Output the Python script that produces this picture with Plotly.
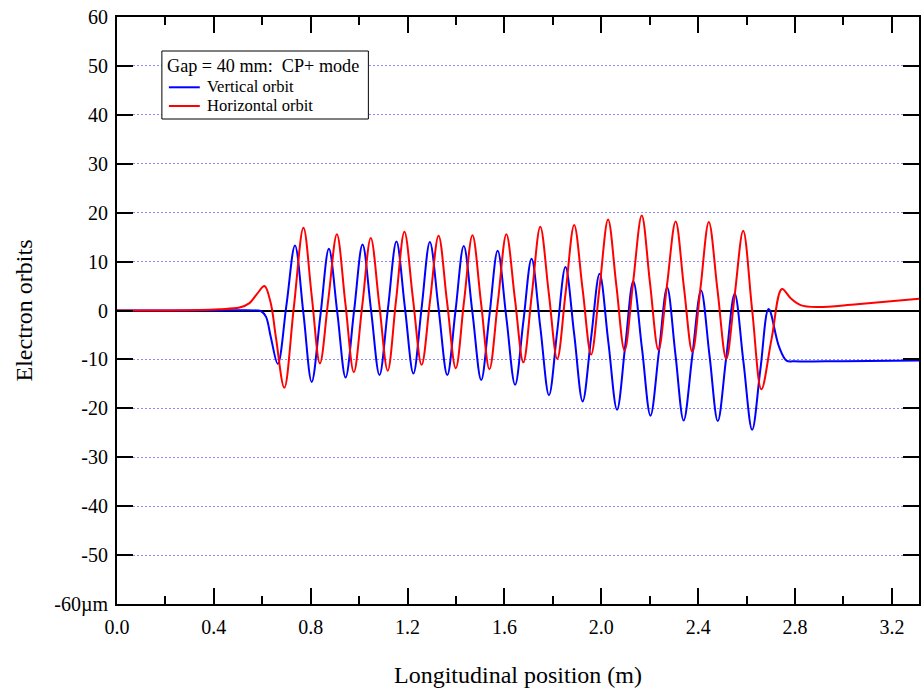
import plotly.graph_objects as go

# Vertical orbit (blue): positions in m, orbit in µm
vert_x = [0.0, 0.2, 0.4, 0.58, 0.594, 0.615, 0.635, 0.664,
          0.700, 0.735, 0.770, 0.804, 0.840, 0.875, 0.910, 0.944, 0.979, 1.014,
          1.049, 1.084, 1.119, 1.154, 1.189, 1.224, 1.258, 1.292, 1.328, 1.364,
          1.398, 1.432, 1.468, 1.504, 1.538, 1.572, 1.608, 1.644, 1.678, 1.712,
          1.748, 1.784, 1.818, 1.852, 1.888, 1.923, 1.958, 1.993, 2.029, 2.065,
          2.099, 2.132, 2.168, 2.203, 2.238, 2.272, 2.306, 2.340, 2.376, 2.412,
          2.447, 2.481, 2.516, 2.551, 2.587, 2.623, 2.657, 2.691,
          2.734, 2.765, 2.795, 3.0, 3.312]
vert_y = [0.0, 0.0, 0.0, 0.0, -0.15, -1.25, -5.4, -10.9,
          1.2, 13.3, -0.65, -14.6, -1.0, 12.6, -0.55, -13.7, -0.1, 13.5,
          0.15, -13.2, 0.45, 14.1, 0.6, -12.9, 0.55, 14.0, 0.4, -13.2,
          0.0, 13.2, -0.5, -14.2, -1.0, 12.2, -1.5, -15.2, -2.3, 10.6,
          -3.35, -17.3, -4.2, 8.9, -4.85, -18.6, -5.55, 7.5, -6.4, -20.3,
          -7.15, 6.0, -7.75, -21.5, -8.4, 4.7, -8.9, -22.5, -9.2, 4.1,
          -9.25, -22.6, -9.6, 3.4, -10.5, -24.4, -12.05, 0.3,
          -7.4, -10.25, -10.4, -10.35, -10.2]

# Horizontal orbit (red)
horiz_x = [0.0, 0.2, 0.340, 0.423, 0.506, 0.547, 0.580, 0.609, 0.635, 0.656, 0.691,
           0.730, 0.770, 0.804, 0.838, 0.873, 0.908, 0.943, 0.978, 1.013, 1.048,
           1.083, 1.118, 1.152, 1.187, 1.222, 1.258, 1.293, 1.328, 1.363, 1.399,
           1.433, 1.468, 1.503, 1.538, 1.573, 1.608, 1.643, 1.678, 1.713, 1.748,
           1.783, 1.818, 1.853, 1.888, 1.923, 1.958, 1.993, 2.028, 2.062, 2.096,
           2.131, 2.167, 2.201, 2.236, 2.271, 2.307, 2.341, 2.376, 2.410, 2.444,
           2.480, 2.516, 2.551, 2.586, 2.623, 2.661, 2.703, 2.746,
           2.782, 2.823, 2.892, 3.056, 3.312]
horiz_y = [0.0, 0.02, 0.1, 0.27, 0.6, 1.5, 3.5, 5.0, 1.5, -5.4, -15.8,
           0.55, 16.9, 3.05, -10.8, 2.4, 15.6, 1.5, -12.6, 1.1, 14.8,
           1.25, -12.3, 1.9, 16.1, 2.5, -11.1, 2.1, 15.3, 1.75, -11.8,
           1.8, 15.4, 1.7, -12.0, 1.8, 15.6, 2.5, -10.6, 3.25, 17.1,
           3.6, -9.9, 3.8, 17.5, 4.25, -9.0, 4.8, 18.6, 5.2, -8.2,
           5.6, 19.4, 5.65, -8.1, 5.05, 18.2, 4.85, -8.5, 4.8, 18.1,
           4.1, -9.9, 3.2, 16.3, 0.1, -16.1, -5.85, 4.4,
           2.5, 1.1, 0.7, 1.3, 2.4]

y_ticks = [-60, -50, -40, -30, -20, -10, 0, 10, 20, 30, 40, 50, 60]
y_ticktext = ["-60\u00b5m", "-50", "-40", "-30", "-20", "-10", "0",
              "10", "20", "30", "40", "50", "60"]

series_names = ["Vertical orbit", "Horizontal orbit"]
series_colors = ["#0000ff", "#ff0000"]
legend_title = "Gap = 40 mm:\u00a0 CP+ mode"

FONT = "Liberation Serif, Times New Roman, serif"

# plot area in pixels (for placing the legend box)
W, H = 923, 692
ML, MR, MT, MB = 117, 2, 17, 88
PW, PH = W - ML - MR, H - MT - MB


def px_x(px):
    return (px - ML) / PW


def px_y(py):
    return (H - MB - py) / PH


fig = go.Figure()
for xs, ys, name, color in [(vert_x, vert_y, series_names[0], series_colors[0]),
                            (horiz_x, horiz_y, series_names[1], series_colors[1])]:
    fig.add_trace(go.Scatter(x=xs, y=ys, mode="lines", name=name, showlegend=False,
                             line=dict(color=color, width=2, shape="spline", smoothing=1)))

# legend box drawn as shapes + text annotations
shapes = [dict(type="rect", xref="paper", yref="paper",
               x0=px_x(162), x1=px_x(369), y0=px_y(119), y1=px_y(51),
               line=dict(color="black", width=1), fillcolor="white", layer="above")]
annotations = [dict(text=legend_title, xref="paper", yref="paper",
                    x=px_x(165), y=px_y(66), xanchor="left", yanchor="middle",
                    showarrow=False, font=dict(family=FONT, size=18.2, color="black"))]
for i, (name, color) in enumerate(zip(series_names, series_colors)):
    yy = 87.3 + i * 18.7
    shapes.append(dict(type="line", xref="paper", yref="paper",
                       x0=px_x(169), x1=px_x(200), y0=px_y(yy), y1=px_y(yy),
                       line=dict(color=color, width=2), layer="above"))
    annotations.append(dict(text=name, xref="paper", yref="paper",
                            x=px_x(205), y=px_y(yy - 0.5), xanchor="left", yanchor="middle",
                            showarrow=False, font=dict(family=FONT, size=16.5, color="black")))

fig.update_layout(
    width=W, height=H,
    margin=dict(l=ML, r=MR, t=MT, b=MB),
    paper_bgcolor="white", plot_bgcolor="white",
    font=dict(family=FONT, size=20, color="black"),
    showlegend=False,
    shapes=shapes, annotations=annotations,
    xaxis=dict(
        range=[0, 3.312], title=dict(text="Longitudinal position (m)", standoff=29),
        tick0=0, dtick=0.4, tickformat=".1f",
        ticks="inside", ticklen=16, tickwidth=2, tickcolor="black",
        showline=True, linecolor="black", linewidth=2, mirror="ticks",
        showgrid=False, zeroline=False,
        minor=dict(dtick=0.2, ticks="inside", ticklen=8, tickwidth=2, tickcolor="black", showgrid=False),
        ticklabelstandoff=4,
    ),
    yaxis=dict(
        range=[-60, 60], title=dict(text="Electron orbits", standoff=15),
        tickvals=y_ticks, ticktext=y_ticktext,
        ticks="inside", ticklen=16, tickwidth=2, tickcolor="black",
        showline=True, linecolor="black", linewidth=2, mirror="ticks",
        showgrid=True, gridcolor="#8c8cff", griddash="2px,2px", gridwidth=1,
        zeroline=True, zerolinecolor="black", zerolinewidth=2,
        ticklabelstandoff=3,
    ),
)

fig.write_html("out.html", config={"displayModeBar": False},
               post_script="document.body.style.margin='0px';document.body.style.overflow='hidden';")
